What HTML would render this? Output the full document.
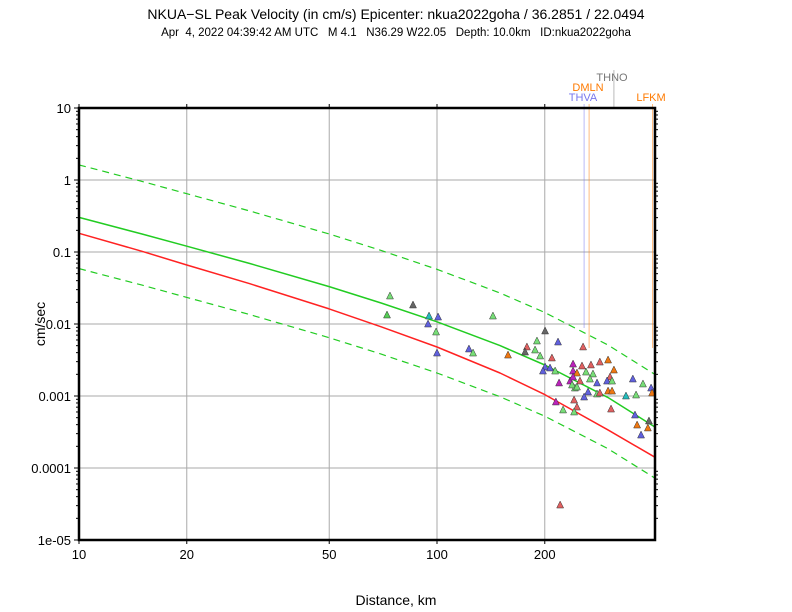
<!DOCTYPE html>
<html><head><meta charset="utf-8"><style>
body{margin:0;background:#fff;}
svg{display:block;font-family:"Liberation Sans",sans-serif;}
</style></head><body>
<svg id="chart" width="792" height="612" viewBox="0 0 792 612">
<text x="396" y="19" font-size="14" text-anchor="middle">NKUA−SL Peak Velocity (in cm/s) Epicenter: nkua2022goha / 36.2851 / 22.0494</text>
<text x="396" y="36" font-size="11.5" text-anchor="middle" xml:space="preserve">Apr  4, 2022 04:39:42 AM UTC   M 4.1   N36.29 W22.05   Depth: 10.0km   ID:nkua2022goha</text>
<text transform="translate(45,324) rotate(-90)" font-size="14" text-anchor="middle">cm/sec</text>
<text x="396" y="605" font-size="14" text-anchor="middle">Distance, km</text>
<g id="grid"></g><g id="stations"></g><g id="curves"></g><g id="points"></g><g id="frame"></g>
</svg>
<script>
const xTicks=[10,20,50,100,200];
const yTickExp=[1,0,-1,-2,-3,-4,-5];
const yTickLabels=["10","1","0.1","0.01","0.001","0.0001","1e-05"];
const curveDist=[10,15,20,30,50,70,100,150,200,300,406];
const medianLog=[-0.52,-0.75,-0.92,-1.16,-1.48,-1.71,-1.97,-2.30,-2.57,-3.02,-3.43];
const upperLog=[0.21,-0.02,-0.19,-0.43,-0.75,-0.98,-1.24,-1.57,-1.84,-2.29,-2.70];
const lowerLog=[-1.23,-1.46,-1.63,-1.87,-2.19,-2.42,-2.68,-3.01,-3.28,-3.73,-4.14];
const redLog=[-0.74,-0.99,-1.18,-1.44,-1.79,-2.04,-2.32,-2.68,-2.98,-3.47,-3.85];
const stationNames=["THVA","DMLN","THNO","LFKM"];
const stationDist=[257.6,266.0,312.0,400];
const stationColors=["#7777ee","#ff7a00","#777777","#ff7a00"];
const ptDist=[72.5,73.9,85.7,95.0,94.4,99.4,100,100.7,122.8,126.1,143.3,200.4,217.8,190.2,178.3,176.2,187.9,157.9,194.1,209.4,255.9,239.9,254.1,269.2,285.0,300.5,200.4,206.9,197.7,213.8,239.9,246.0,260.8,272.7,312.0,304.3,219.3,235.5,239.9,250.8,267.4,279.9,298.5,308.3,352.4,376.1,396.3,242.8,238.3,246.0,264.2,279.9,285.0,300.5,308.3,257.6,337.2,359.8,398.9,214.8,241.5,246.0,225.0,241.5,306.3,357.3,390.9,362.2,388.2,371.5,220.8];
const ptLog=[-1.875,-1.611,-1.736,-1.889,-2.0,-2.111,-2.403,-1.903,-2.347,-2.403,-1.889,-2.097,-2.25,-2.236,-2.319,-2.389,-2.361,-2.431,-2.444,-2.472,-2.319,-2.556,-2.583,-2.569,-2.528,-2.5,-2.597,-2.611,-2.653,-2.653,-2.653,-2.681,-2.667,-2.694,-2.639,-2.736,-2.819,-2.792,-2.736,-2.792,-2.764,-2.819,-2.792,-2.792,-2.764,-2.833,-2.889,-2.889,-2.847,-2.875,-2.944,-2.972,-2.958,-2.931,-2.931,-3.014,-3.0,-2.986,-2.958,-3.083,-3.056,-3.153,-3.194,-3.222,-3.181,-3.264,-3.347,-3.403,-3.444,-3.542,-4.514];
const ptColors=["g","G","k","c","b","G","b","b","b","G","G","k","b","G","r","k","G","o","G","r","r","m","r","r","r","o","b","b","b","G","m","o","G","G","o","r","m","m","m","r","G","b","b","G","b","G","b","G","G","G","b","G","r","o","o","b","c","G","o","m","r","r","G","G","r","b","k","o","o","b","r"];
const palette={g:"#55cc55",G:"#77dd77",k:"#666666",c:"#22bbbb",b:"#6060dd",r:"#e06060",o:"#ee7711",m:"#bb22bb"};
const L=79,R=655,T=108,B=540,DEC=358,YDEC=72;
const X=d=>L+DEC*(Math.log10(d)-1);
const Y=lg=>T+YDEC*(1-lg);
const NS="http://www.w3.org/2000/svg";
function mk(tag,parent,attrs){const e=document.createElementNS(NS,tag);for(const k in attrs)e.setAttribute(k,attrs[k]);document.getElementById(parent).appendChild(e);return e;}
xTicks.forEach(v=>{
 if(v!==10){const l=mk('line','grid',{x1:X(v),x2:X(v),y1:T,y2:B,stroke:'#aaa','stroke-width':1});
 
 }
 const t=mk('text','grid',{x:X(v),y:B+19,'font-size':13,'text-anchor':'middle'});t.textContent=v;
 
 
 mk('line','grid',{x1:X(v),x2:X(v),y1:B,y2:B+4,stroke:'#000'});
 mk('line','grid',{x1:X(v),x2:X(v),y1:T,y2:T-4,stroke:'#000'});
});
yTickExp.forEach((e,i)=>{
 const y=Y(e);
 const l=mk('line','grid',{x1:L,x2:R,y1:y,y2:y,stroke:'#aaa','stroke-width':1});
 
 
 const t=mk('text','grid',{x:L-8,y:y+5,'font-size':13,'text-anchor':'end'});t.textContent=yTickLabels[i];
 
 
 mk('line','grid',{x1:L-5,x2:L,y1:y,y2:y,stroke:'#000'});
 if(e>-5)for(let k=2;k<10;k++){const yy=Y(e-1+Math.log10(k));
  mk('line','grid',{x1:L-3,x2:L,y1:yy,y2:yy,stroke:'#000'});
  mk('line','grid',{x1:R,x2:R+3,y1:yy,y2:yy,stroke:'#000'});}
});
stationNames.forEach((n,i)=>{
 const x=X(stationDist[i]);
 const top=[104,104,70,104][i], bot=[328,348,108,348][i];
 const l=mk('line','stations',{x1:x,x2:x,y1:top,y2:bot,stroke:stationColors[i],'stroke-opacity':0.5,'stroke-width':1});
 
 
 const lx=[583,588,612,651][i], ly=[101,91,81,101][i];
 const t=mk('text','stations',{x:lx,y:ly,'font-size':11,'text-anchor':'middle',fill:stationColors[i]});t.textContent=n;
 
 
});
function curve(vals,color,dash,name){
 const p=mk('path','curves',{d:vals.map((v,i)=>(i?'L':'M')+X(curveDist[i]).toFixed(1)+','+Y(v).toFixed(1)).join(''),fill:'none',stroke:color,'stroke-width':dash?1.2:1.5,'stroke-dasharray':dash?'7,5':'none','stroke-linejoin':'round'});
 
 
}
curve(upperLog,'#22cc22',true,'upper-bound-curve');
curve(lowerLog,'#22cc22',true,'lower-bound-curve');
curve(medianLog,'#22cc22',false,'median-curve');
curve(redLog,'#ff2222',false,'red-curve');
ptDist.forEach((d,i)=>{
 const x=X(d),y=Y(ptLog[i]);
 const p=mk('polygon','points',{points:`${x},${y-4} ${x-3.5},${y+3} ${x+3.5},${y+3}`,fill:palette[ptColors[i]],stroke:'#333','stroke-width':0.5});
 
 
});
const f=mk('rect','frame',{x:L,y:T,width:R-L,height:B-T,fill:'none',stroke:'#000','stroke-width':2.5});


</script>
</body></html>
